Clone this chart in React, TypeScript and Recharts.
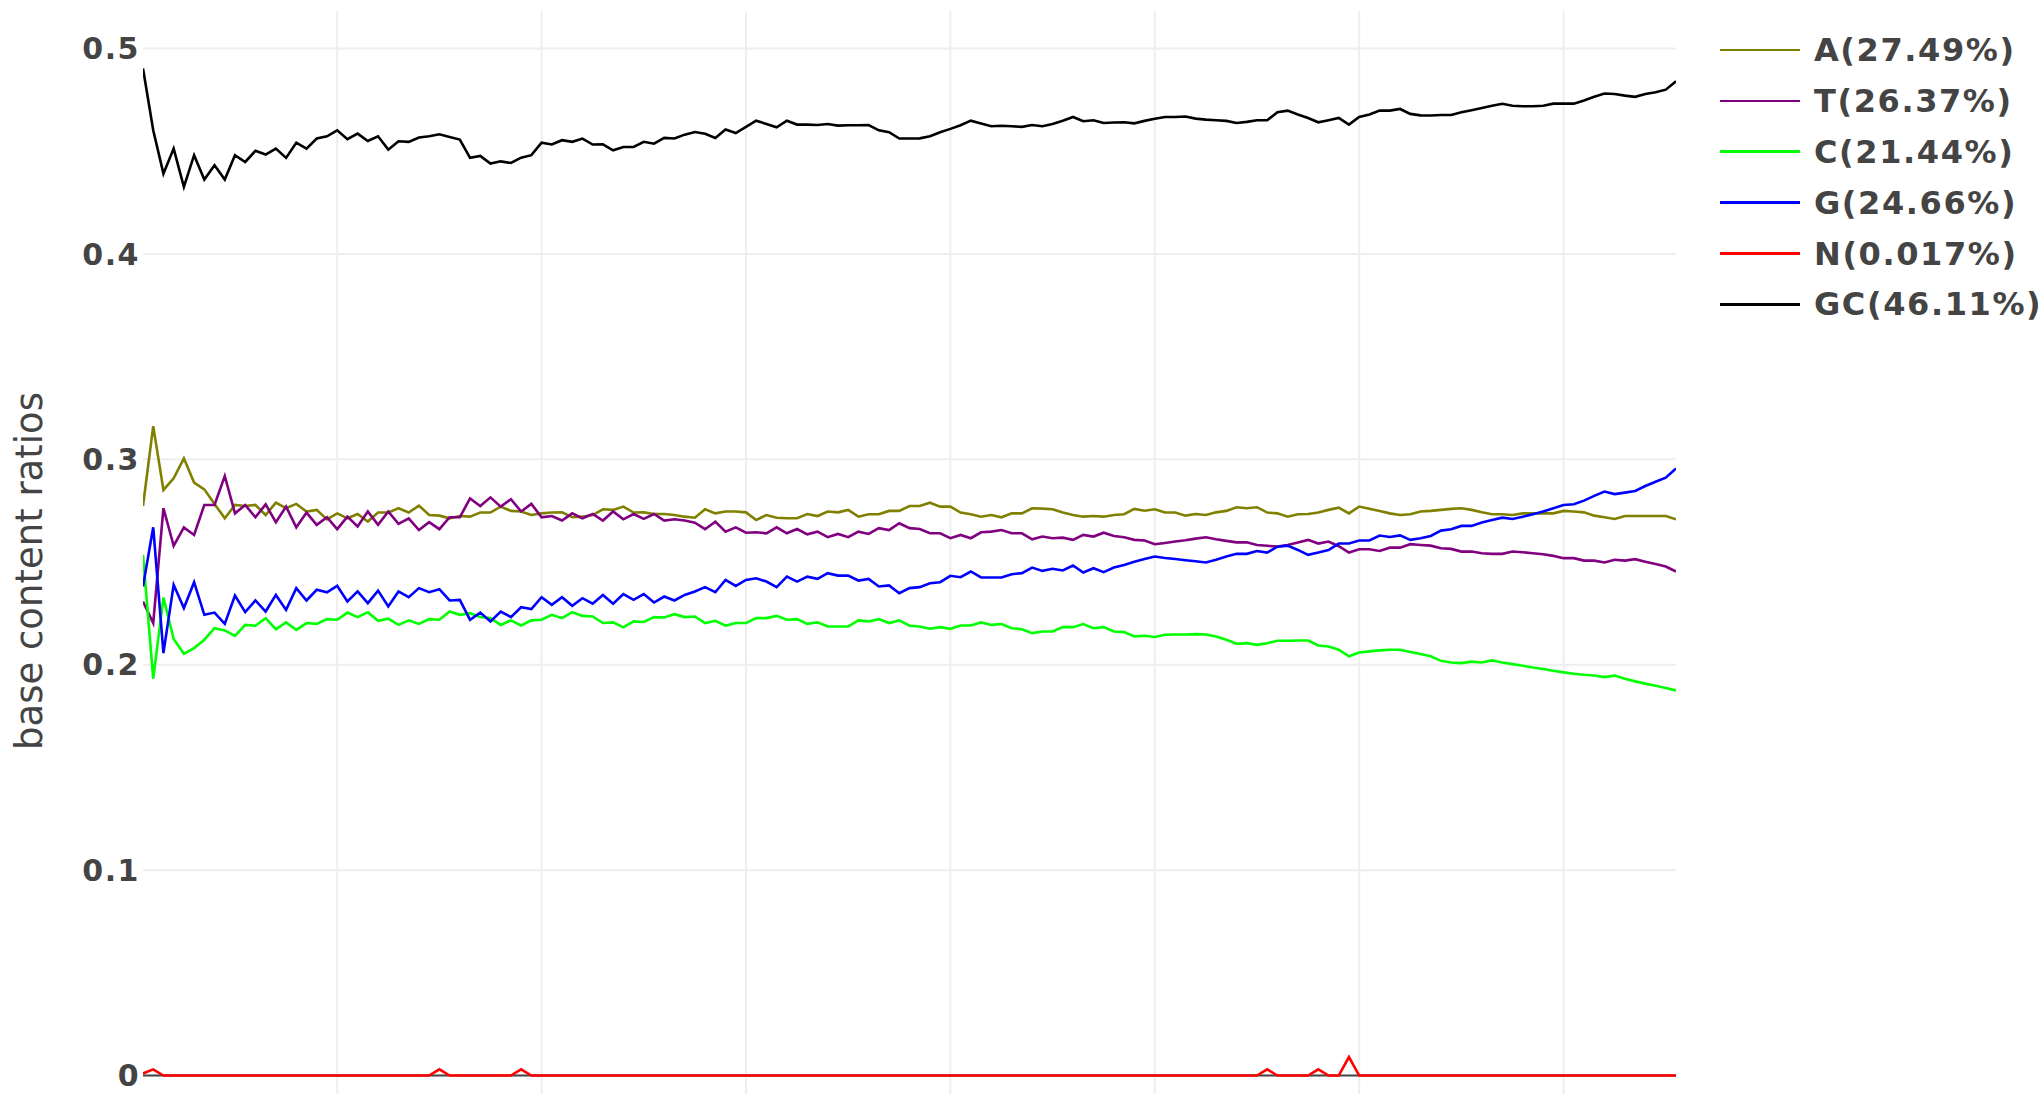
import React from 'react';
import { LineChart, Line, XAxis, YAxis, CartesianGrid, ReferenceLine } from 'recharts';

// read position 1..151
const positions = Array.from({ length: 151 }, (_, i) => i + 1);

const aRatio = [
  0.2773, 0.3162, 0.2851, 0.2908, 0.3005, 0.2887, 0.2854, 0.2783, 0.2713, 0.2778,
  0.2773, 0.2778, 0.2729, 0.2789, 0.2762, 0.2783, 0.2746, 0.2754, 0.2708, 0.2737,
  0.2713, 0.2734, 0.2697, 0.2741, 0.2741, 0.2762, 0.2741, 0.2775, 0.2729, 0.2726,
  0.2713, 0.2724, 0.2721, 0.2741, 0.2741, 0.2770, 0.2749, 0.2746, 0.2729, 0.2737,
  0.2741, 0.2742, 0.2718, 0.2721, 0.2729, 0.2757, 0.2754, 0.2770, 0.2741, 0.2742,
  0.2734, 0.2734, 0.2729, 0.2721, 0.2716, 0.2757, 0.2737, 0.2746, 0.2746, 0.2742,
  0.2705, 0.2729, 0.2716, 0.2713, 0.2713, 0.2734, 0.2724, 0.2746, 0.2742, 0.2754,
  0.2721, 0.2733, 0.2733, 0.2749, 0.2749, 0.2773, 0.2773, 0.2789, 0.2770, 0.2770,
  0.2741, 0.2733, 0.2721, 0.2729, 0.2718, 0.2737, 0.2737, 0.2762, 0.2760, 0.2757,
  0.2741, 0.2729, 0.2721, 0.2724, 0.2721, 0.2729, 0.2733, 0.2759, 0.2750, 0.2757,
  0.2741, 0.2741, 0.2726, 0.2734, 0.2729, 0.2742, 0.2749, 0.2767, 0.2762, 0.2767,
  0.2741, 0.2737, 0.2721, 0.2733, 0.2734, 0.2741, 0.2754, 0.2765, 0.2737, 0.2770,
  0.2759, 0.2749, 0.2737, 0.2729, 0.2733, 0.2746, 0.2749, 0.2754, 0.2759, 0.2762,
  0.2754, 0.2742, 0.2733, 0.2733, 0.2729, 0.2737, 0.2737, 0.2737, 0.2737, 0.2749,
  0.2746, 0.2742, 0.2726, 0.2718, 0.2710, 0.2724, 0.2724, 0.2724, 0.2724, 0.2724, 0.2708,
];

const tRatio = [
  0.2308, 0.2203, 0.2762, 0.2579, 0.2669, 0.2632, 0.2778, 0.2778, 0.2919, 0.2737,
  0.2778, 0.2718, 0.2781, 0.2694, 0.2770, 0.2669, 0.2741, 0.2681, 0.2718, 0.2660,
  0.2721, 0.2673, 0.2746, 0.2681, 0.2746, 0.2686, 0.2713, 0.2656, 0.2694, 0.2660,
  0.2718, 0.2718, 0.2810, 0.2773, 0.2815, 0.2770, 0.2806, 0.2746, 0.2783, 0.2718,
  0.2724, 0.2702, 0.2737, 0.2713, 0.2734, 0.2702, 0.2746, 0.2708, 0.2734, 0.2710,
  0.2734, 0.2702, 0.2708, 0.2702, 0.2692, 0.2660, 0.2697, 0.2648, 0.2669, 0.2643,
  0.2645, 0.2640, 0.2669, 0.2640, 0.2661, 0.2635, 0.2648, 0.2621, 0.2637, 0.2621,
  0.2648, 0.2637, 0.2665, 0.2656, 0.2689, 0.2665, 0.2661, 0.2640, 0.2640, 0.2616,
  0.2632, 0.2616, 0.2645, 0.2648, 0.2656, 0.2640, 0.2640, 0.2611, 0.2624, 0.2616,
  0.2619, 0.2608, 0.2632, 0.2624, 0.2643, 0.2627, 0.2621, 0.2608, 0.2605, 0.2587,
  0.2593, 0.2600, 0.2606, 0.2614, 0.2621, 0.2611, 0.2603, 0.2596, 0.2596, 0.2583,
  0.2579, 0.2575, 0.2583, 0.2595, 0.2608, 0.2590, 0.2600, 0.2577, 0.2546, 0.2562,
  0.2562, 0.2554, 0.2570, 0.2570, 0.2587, 0.2583, 0.2580, 0.2567, 0.2564, 0.2551,
  0.2551, 0.2543, 0.2540, 0.2540, 0.2551, 0.2548, 0.2543, 0.2538, 0.2530, 0.2519,
  0.2519, 0.2507, 0.2507, 0.2498, 0.2511, 0.2507, 0.2514, 0.2502, 0.2491, 0.2478, 0.2454,
];

const cRatio = [
  0.2535, 0.1932, 0.2327, 0.2125, 0.2053, 0.2081, 0.2122, 0.2178, 0.2167, 0.2141,
  0.2194, 0.2190, 0.2227, 0.2173, 0.2206, 0.2170, 0.2203, 0.2199, 0.2222, 0.2219,
  0.2254, 0.2232, 0.2256, 0.2214, 0.2224, 0.2194, 0.2216, 0.2199, 0.2222, 0.2219,
  0.2259, 0.2243, 0.2251, 0.2232, 0.2227, 0.2194, 0.2216, 0.2191, 0.2216, 0.2219,
  0.2243, 0.2227, 0.2256, 0.2238, 0.2235, 0.2203, 0.2206, 0.2182, 0.2211, 0.2208,
  0.2232, 0.2230, 0.2246, 0.2232, 0.2235, 0.2203, 0.2214, 0.2190, 0.2203, 0.2203,
  0.2227, 0.2227, 0.2238, 0.2219, 0.2222, 0.2199, 0.2207, 0.2186, 0.2186, 0.2186,
  0.2216, 0.2211, 0.2222, 0.2203, 0.2216, 0.2190, 0.2186, 0.2175, 0.2183, 0.2175,
  0.2191, 0.2191, 0.2206, 0.2194, 0.2198, 0.2178, 0.2173, 0.2154, 0.2162, 0.2162,
  0.2183, 0.2183, 0.2198, 0.2178, 0.2183, 0.2162, 0.2159, 0.2138, 0.2141, 0.2135,
  0.2146, 0.2147, 0.2147, 0.2149, 0.2147, 0.2138, 0.2122, 0.2102, 0.2105, 0.2097,
  0.2105, 0.2117, 0.2117, 0.2118, 0.2118, 0.2094, 0.2089, 0.2073, 0.2041, 0.2060,
  0.2065, 0.2070, 0.2073, 0.2073, 0.2062, 0.2052, 0.2041, 0.2019, 0.2011, 0.2008,
  0.2015, 0.2011, 0.2021, 0.2011, 0.2003, 0.1995, 0.1987, 0.1979, 0.1971, 0.1963,
  0.1956, 0.1951, 0.1948, 0.1940, 0.1947, 0.1932, 0.1919, 0.1908, 0.1898, 0.1887, 0.1875,
];

const gRatio = [
  0.2381, 0.2669, 0.2057, 0.2389, 0.2276, 0.2402, 0.2243, 0.2254, 0.2199, 0.2337,
  0.2256, 0.2313, 0.2259, 0.2340, 0.2267, 0.2373, 0.2313, 0.2365, 0.2353, 0.2384,
  0.2308, 0.2357, 0.2300, 0.2361, 0.2284, 0.2357, 0.2329, 0.2373, 0.2353, 0.2368,
  0.2313, 0.2316, 0.2219, 0.2254, 0.2211, 0.2259, 0.2232, 0.2280, 0.2271, 0.2329,
  0.2292, 0.2329, 0.2287, 0.2324, 0.2297, 0.2340, 0.2297, 0.2344, 0.2316, 0.2344,
  0.2303, 0.2332, 0.2313, 0.2340, 0.2357, 0.2378, 0.2353, 0.2413, 0.2384, 0.2413,
  0.2421, 0.2405, 0.2378, 0.2429, 0.2405, 0.2429, 0.2418, 0.2446, 0.2434, 0.2434,
  0.2410, 0.2418, 0.2381, 0.2386, 0.2348, 0.2373, 0.2378, 0.2397, 0.2402, 0.2433,
  0.2426, 0.2454, 0.2425, 0.2425, 0.2425, 0.2441, 0.2446, 0.2473, 0.2457, 0.2467,
  0.2459, 0.2483, 0.2449, 0.2470, 0.2451, 0.2473, 0.2486, 0.2502, 0.2515, 0.2527,
  0.2520, 0.2515, 0.2509, 0.2504, 0.2498, 0.2511, 0.2527, 0.2540, 0.2540, 0.2554,
  0.2546, 0.2575, 0.2580, 0.2559, 0.2535, 0.2546, 0.2558, 0.2590, 0.2590, 0.2605,
  0.2605, 0.2629, 0.2622, 0.2630, 0.2608, 0.2616, 0.2627, 0.2653, 0.2660, 0.2676,
  0.2676, 0.2692, 0.2705, 0.2716, 0.2710, 0.2721, 0.2733, 0.2746, 0.2762, 0.2778,
  0.2781, 0.2799, 0.2822, 0.2843, 0.2831, 0.2838, 0.2846, 0.2870, 0.2891, 0.2911, 0.2956,
];

const nRatio = [
  0.001, 0.003, 0, 0, 0, 0, 0, 0, 0, 0,
  0, 0, 0, 0, 0, 0, 0, 0, 0, 0,
  0, 0, 0, 0, 0, 0, 0, 0, 0, 0.003,
  0, 0, 0, 0, 0, 0, 0, 0.003, 0, 0,
  0, 0, 0, 0, 0, 0, 0, 0, 0, 0,
  0, 0, 0, 0, 0, 0, 0, 0, 0, 0,
  0, 0, 0, 0, 0, 0, 0, 0, 0, 0,
  0, 0, 0, 0, 0, 0, 0, 0, 0, 0,
  0, 0, 0, 0, 0, 0, 0, 0, 0, 0,
  0, 0, 0, 0, 0, 0, 0, 0, 0, 0,
  0, 0, 0, 0, 0, 0, 0, 0, 0, 0,
  0.003, 0, 0, 0, 0, 0.003, 0, 0, 0.009, 0,
  0, 0, 0, 0, 0, 0, 0, 0, 0, 0,
  0, 0, 0, 0, 0, 0, 0, 0, 0, 0,
  0, 0, 0, 0, 0, 0, 0, 0, 0, 0, 0,
];

const gcRatio = [
  0.4903, 0.4602, 0.4391, 0.4513, 0.4327, 0.4481, 0.4362, 0.4432, 0.4362, 0.4481,
  0.4448, 0.4502, 0.4484, 0.4513, 0.4468, 0.4542, 0.4513, 0.4562, 0.4573, 0.4602,
  0.4559, 0.4586, 0.4550, 0.4573, 0.4508, 0.4549, 0.4546, 0.4567, 0.4573, 0.4583,
  0.4570, 0.4557, 0.4468, 0.4477, 0.4440, 0.4451, 0.4443, 0.4469, 0.4481, 0.4542,
  0.4533, 0.4554, 0.4546, 0.4562, 0.4533, 0.4534, 0.4505, 0.4521, 0.4521, 0.4546,
  0.4537, 0.4565, 0.4562, 0.4581, 0.4594, 0.4585, 0.4565, 0.4606, 0.4589, 0.4619,
  0.4649, 0.4633, 0.4617, 0.4649, 0.4630, 0.4630, 0.4628, 0.4633, 0.4625, 0.4627,
  0.4627, 0.4628, 0.4602, 0.4593, 0.4562, 0.4562, 0.4563, 0.4573, 0.4593, 0.4609,
  0.4627, 0.4649, 0.4635, 0.4622, 0.4624, 0.4622, 0.4619, 0.4628, 0.4622, 0.4633,
  0.4649, 0.4667, 0.4646, 0.4651, 0.4638, 0.4640, 0.4641, 0.4636, 0.4648, 0.4658,
  0.4667, 0.4667, 0.4669, 0.4659, 0.4654, 0.4651, 0.4648, 0.4638, 0.4643, 0.4651,
  0.4651, 0.4690, 0.4698, 0.4679, 0.4662, 0.4641, 0.4651, 0.4662, 0.4630, 0.4667,
  0.4679, 0.4698, 0.4698, 0.4706, 0.4682, 0.4675, 0.4674, 0.4677, 0.4677, 0.4690,
  0.4700, 0.4711, 0.4722, 0.4731, 0.4722, 0.4719, 0.4719, 0.4722, 0.4732, 0.4732,
  0.4732, 0.4747, 0.4765, 0.4781, 0.4779, 0.4771, 0.4765, 0.4779, 0.4787, 0.4800, 0.4841,
];

const series = [
  { key: 'A', name: 'A(27.49%)', color: '#808000', values: aRatio },
  { key: 'T', name: 'T(26.37%)', color: '#800080', values: tRatio },
  { key: 'C', name: 'C(21.44%)', color: '#00ff00', values: cRatio },
  { key: 'G', name: 'G(24.66%)', color: '#0000ff', values: gRatio },
  { key: 'N', name: 'N(0.017%)', color: '#ff0000', values: nRatio },
  { key: 'GC', name: 'GC(46.11%)', color: '#000000', values: gcRatio },
];

const yTicks = [0, 0.1, 0.2, 0.3, 0.4, 0.5];
const xGridTicks = [20, 40, 60, 80, 100, 120, 140];
const X_DOMAIN = [1, 151];
const Y_DOMAIN = [-0.009, 0.5183];

const data = positions.map((pos, i) => {
  const row: Record<string, number> = { pos };
  series.forEach((s) => {
    row[s.key] = s.values[i];
  });
  return row;
});

const FONT = '"DejaVu Sans", Verdana, sans-serif';

// grid lines only at the tick values, no box around the plot
const verticalGrid = ({ xAxis, offset }: any) =>
  xGridTicks.map((t) =>
    xAxis && typeof xAxis.scale === 'function'
      ? xAxis.scale(t)
      : offset.left + ((t - X_DOMAIN[0]) / (X_DOMAIN[1] - X_DOMAIN[0])) * offset.width
  );

const horizontalGrid = ({ yAxis, offset }: any) =>
  yTicks.map((t) =>
    yAxis && typeof yAxis.scale === 'function'
      ? yAxis.scale(t)
      : offset.top + ((Y_DOMAIN[1] - t) / (Y_DOMAIN[1] - Y_DOMAIN[0])) * offset.height
  );

const renderYLabel = (props: any) => {
  const vb = props.viewBox || { x: 0, y: 0 };
  return (
    <text
      transform={`translate(${vb.x + 42},${vb.y + 560}) rotate(-90)`}
      textAnchor="middle"
      fontSize={37}
      fill="#444"
      fontFamily={FONT}
    >
      base content ratios
    </text>
  );
};

export default function App() {
  return (
    <div
      style={{
        position: 'absolute',
        left: 0,
        top: 0,
        width: 2044,
        height: 1094,
        overflow: 'hidden',
        background: '#fff',
        fontFamily: FONT,
      }}
    >
      <LineChart
        width={2044}
        height={1094}
        data={data}
        margin={{ top: 11, right: 368, bottom: 0, left: 0 }}
      >
        <CartesianGrid
          stroke="#eee"
          strokeWidth={2}
          verticalCoordinatesGenerator={verticalGrid}
          horizontalCoordinatesGenerator={horizontalGrid}
        />
        <XAxis
          dataKey="pos"
          type="number"
          domain={X_DOMAIN}
          ticks={xGridTicks}
          height={0}
          tick={false}
          axisLine={false}
          tickLine={false}
          allowDataOverflow
        />
        <YAxis
          type="number"
          domain={Y_DOMAIN}
          ticks={yTicks}
          width={143}
          allowDataOverflow
          axisLine={false}
          tickLine={false}
          tickSize={0}
          tickMargin={3}
          tick={{ fontSize: 30, fontWeight: 'bold', fill: '#444', fontFamily: FONT, letterSpacing: 1.5 }}
          label={renderYLabel}
        />
        <ReferenceLine y={0} stroke="#444" strokeWidth={2} />
        {series.map((s) => (
          <Line
            key={s.key}
            type="linear"
            dataKey={s.key}
            name={s.name}
            stroke={s.color}
            strokeWidth={2.6}
            dot={false}
            isAnimationActive={false}
          />
        ))}
      </LineChart>

      <div style={{ position: 'absolute', left: 1720, top: 24.5 }}>
        {series.map((s) => (
          <div key={s.key} style={{ display: 'flex', alignItems: 'center', height: 50.9 }}>
            <div style={{ width: 80, height: 2.6, background: s.color }} />
            <span
              style={{
                marginLeft: 14,
                fontSize: 32,
                fontWeight: 'bold',
                color: '#444',
                letterSpacing: 1.6,
                lineHeight: 1,
                whiteSpace: 'nowrap',
              }}
            >
              {s.name}
            </span>
          </div>
        ))}
      </div>
    </div>
  );
}
